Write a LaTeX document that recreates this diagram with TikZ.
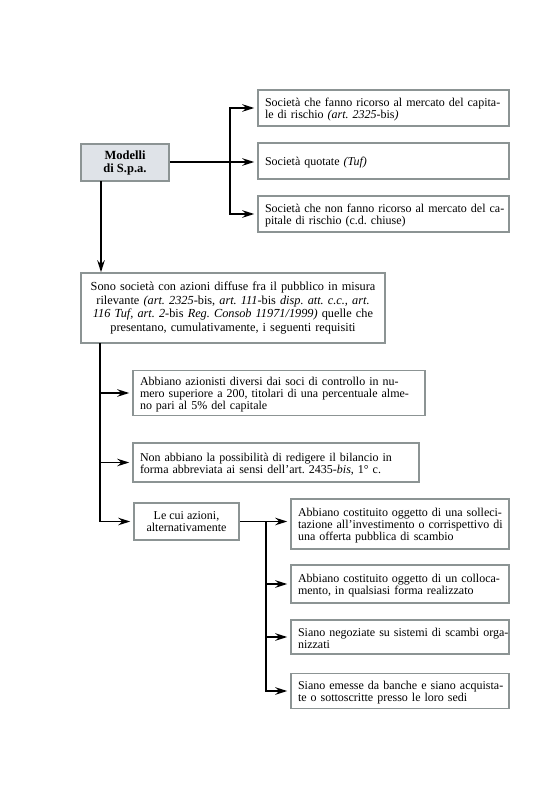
\documentclass[tikz,border=0pt]{standalone}
\usepackage{fontspec}
\setmainfont{Liberation Serif}
\usetikzlibrary{arrows.meta}
\definecolor{boxgray}{HTML}{8C9494}
\definecolor{headfill}{HTML}{DFE3E8}
\newcommand{\jl}[1]{\par\noindent\hbox to \hsize{#1}\par}
\newcommand{\nl}[1]{\par\noindent\hbox{#1}\par}
\frenchspacing
\begin{document}
\begin{tikzpicture}[x=1pt,y=-1pt,
  box/.style={draw=boxgray, line width=1.5pt, fill=white, inner xsep=7pt, inner ysep=2pt,
    font=\fontsize{12}{12}\selectfont\frenchspacing, anchor=center},
  jbox/.style={box, align=left},
  cbox/.style={box, align=center},
  arr/.style={line width=1.5pt, -{Stealth[length=12pt,width=7.5pt]}, shorten >=3pt}]
\useasboundingbox (0,0) rectangle (559,788);
\fill[white] (0,0) rectangle (559,788);

% head
\node[cbox, fill=headfill, minimum width=88pt, minimum height=37pt, font=\fontsize{12.5}{13}\selectfont\bfseries] (m) at (125,162.5) {Modelli\\di S.p.a.};

% right branch boxes
\node[jbox, text width=237pt, minimum height=36pt] (b1) at (383.5,108) {%
\jl{Società che fanno ricorso al mercato del capita-}%
\nl{le di rischio \textit{(art. 2325}-bis\textit{)}}};
\node[jbox, text width=237pt, minimum height=36pt] (b2) at (383.5,161) {%
\nl{Società quotate \textit{(Tuf)}}};
\node[jbox, text width=237pt, minimum height=36pt] (b3) at (383.5,214) {%
\jl{Società che non fanno ricorso al mercato del ca-}%
\nl{pitale di rischio (c.d. chiuse)}};

% big box
\node[cbox, text width=290pt, minimum height=70pt, font=\fontsize{12.3}{13.5}\selectfont\frenchspacing] (big) at (233,308) {%
Sono società con azioni diffuse fra il pubblico in misura\\
rilevante \textit{(art. 2325}-bis, \textit{art. 111}-bis \textit{disp. att. c.c., art.}\\
\textit{116 Tuf, art. 2}-bis \textit{Reg. Consob 11971/1999)} quelle che\\
presentano, cumulativamente, i seguenti requisiti};

% requirement boxes
\node[jbox, text width=278pt, minimum height=45pt] (bA) at (279,393) {%
\jl{Abbiano azionisti diversi dai soci di controllo in nu-}%
\jl{mero superiore a 200, titolari di una percentuale alme-}%
\nl{no pari al 5\% del capitale}};
\node[jbox, text width=272pt, minimum height=39pt] (bB) at (276,462.5) {%
\jl{Non abbiano la possibilità di redigere il bilancio in}%
\nl{forma abbreviata ai sensi dell'art. 2435-\textit{bis}, 1° c.}};
\node[cbox, minimum width=105pt, minimum height=37pt] (bC) at (186.5,521.5) {Le cui azioni,\\alternativamente};

% alternative boxes
\node[jbox, text width=204pt, minimum height=50pt] (bD) at (400,524) {%
\jl{Abbiano costituito oggetto di una solleci-}%
\jl{tazione all'investimento o corrispettivo di}%
\nl{una offerta pubblica di scambio}};
\node[jbox, text width=204pt, minimum height=38pt] (bE) at (400,584) {%
\jl{Abbiano costituito oggetto di un colloca-}%
\nl{mento, in qualsiasi forma realizzato}};
\node[jbox, text width=204pt, minimum height=34pt] (bF) at (400,637) {%
\jl{Siano negoziate su sistemi di scambi orga-}%
\nl{nizzati}};
\node[jbox, text width=204pt, minimum height=35pt] (bG) at (400,691) {%
\jl{Siano emesse da banche e siano acquista-}%
\nl{te o sottoscritte presso le loro sedi}};

% connectors
\coordinate (j1) at (230,162);
\draw[arr] (m.east |- j1) -- (b2.west |- j1);
\draw[arr] (j1) |- (b1.west);
\draw[arr] (j1) |- (b3.west);

\coordinate (t1) at (101,181);
\draw[arr, shorten >=0pt] (t1) -- (t1 |- big.north);

\coordinate (t2) at (100,343);
\draw[arr] (t2) |- (bA.west);
\draw[arr] (t2) |- (bB.west);
\draw[arr] (t2) |- (bC.west);

\coordinate (j2) at (266,521.5);
\draw[arr] (bC.east) -- (bD.west |- bC.east);
\draw[arr] (j2) |- (bE.west);
\draw[arr] (j2) |- (bF.west);
\draw[arr] (j2) |- (bG.west);
\end{tikzpicture}
\end{document}
